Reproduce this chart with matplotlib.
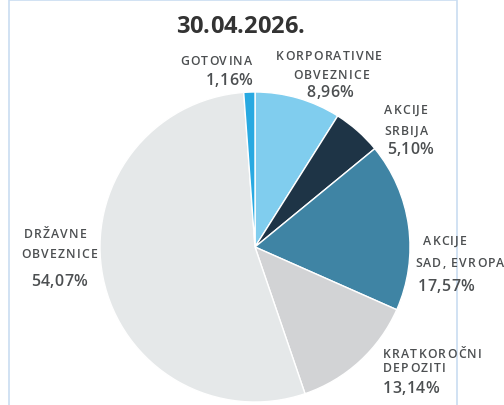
import matplotlib
matplotlib.use("Agg")
import matplotlib.pyplot as plt
from matplotlib.patches import Rectangle
from matplotlib.font_manager import FontProperties, findfont, get_font

categories = ["KORPORATIVNE\nOBVEZNICE", "AKCIJE\nSRBIJA", "AKCIJE\nSAD, EVROPA",
              "KRATKOROČNI\nDEPOZITI", "DRŽAVNE\nOBVEZNICE", "GOTOVINA"]
values = [8.96, 5.10, 17.57, 13.14, 54.07, 1.16]
pct_labels = ["8,96%", "5,10%", "17,57%", "13,14%", "54,07%", "1,16%"]
colors = ["#80CDEE", "#1E3446", "#3F84A4", "#D2D3D5", "#E5E8E9", "#28A9E1"]
title = "30.04.2026."

W, H = 504, 406
DPI = 100
fig = plt.figure(figsize=(W / DPI, H / DPI), dpi=DPI)
ax = fig.add_axes([0, 0, 1, 1])

def Y(y):
    return H - y

ax.pie(values, colors=colors, startangle=90, counterclock=False,
       center=(255, Y(248)), radius=155, frame=True,
       wedgeprops=dict(edgecolor="white", linewidth=1.0))
ax.set_xlim(0, W)
ax.set_ylim(0, H)
ax.axis("off")

ax.add_patch(Rectangle((9, Y(420)), 448, 419, fill=False, edgecolor="#CADDF1", lw=1.2))

TXT = "#4C4F51"

def spaced(x, y, s, ha="left", size=8, sp_em=0.1, weight="semibold", color=TXT):
    """Draw text with letter spacing; (x, y) in image pixels, y is baseline."""
    prop = FontProperties(family="Open Sans", size=size, weight=weight)
    font = get_font(findfont(prop))
    font.set_size(size, DPI)
    sp = sp_em * size * DPI / 72
    info = []
    for c in s:
        g = font.load_char(ord(c))
        info.append((c, g.linearHoriAdvance / 65536.0, g.horiBearingX / 64.0 / 8.0))
    total = sum(a for _, a, _ in info) + sp * (len(s) - 1)
    if ha == "center":
        x0 = x - total / 2
    elif ha == "right":
        x0 = x - total
    else:
        x0 = x
    for c, adv, lsb in info:
        if c != " ":
            ax.text(x0 + lsb, Y(y), c, fontproperties=prop, color=color,
                    ha="left", va="baseline")
        x0 += adv + sp

LAB = dict(size=8.8, sp_em=0.095)
PCT = dict(size=11.5, sp_em=0.02)

spaced(240, 33, title, ha="center", size=17, sp_em=0.0, weight="bold", color="#333333")

# KORPORATIVNE OBVEZNICE
l1, l2 = categories[0].split("\n")
spaced(329, 60, l1, ha="center", **LAB)
spaced(331, 79, l2, ha="center", **LAB)
spaced(330, 97, pct_labels[0], ha="center", **PCT)
# AKCIJE SRBIJA
l1, l2 = categories[1].split("\n")
spaced(406, 114, l1, ha="center", **LAB)
spaced(406, 135, l2, ha="center", **LAB)
spaced(410, 154, pct_labels[1], ha="center", **PCT)
# AKCIJE SAD, EVROPA
l1, l2 = categories[2].split("\n")
spaced(423, 245, l1, ha="left", **LAB)
spaced(415, 267, l2, ha="left", **LAB)
spaced(418, 291, pct_labels[2], ha="left", **PCT)
# KRATKOROČNI DEPOZITI
l1, l2 = categories[3].split("\n")
spaced(383, 358, l1, ha="left", **LAB)
spaced(383, 372, l2, ha="left", **LAB)
spaced(383, 393, pct_labels[3], ha="left", **PCT)
# DRŽAVNE OBVEZNICE
l1, l2 = categories[4].split("\n")
spaced(55, 238, l1, ha="center", **LAB)
spaced(59, 258, l2, ha="center", **LAB)
spaced(59, 286, pct_labels[4], ha="center", **PCT)
# GOTOVINA
spaced(252, 65, categories[5], ha="right", **LAB)
spaced(252, 85, pct_labels[5], ha="right", **PCT)

fig.savefig("out.png", dpi=DPI)
